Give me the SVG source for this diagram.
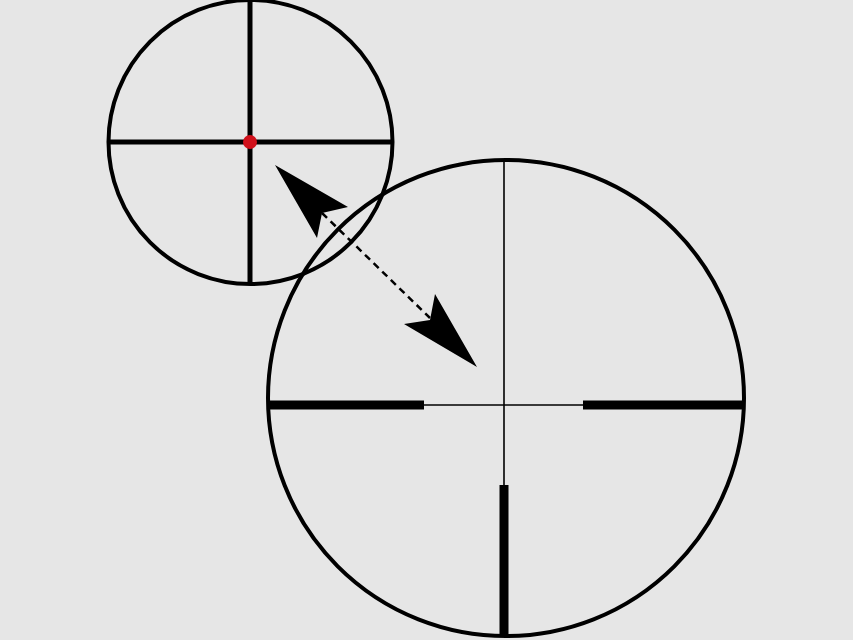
<svg xmlns="http://www.w3.org/2000/svg" width="853" height="640" viewBox="0 0 853 640">
<style>
.ring{fill:none;stroke:#000;stroke-width:4}
.thick{stroke:#000;stroke-width:5}
.thin{stroke:#000;stroke-width:1.6}
.bar{stroke:#000;stroke-width:9}
</style>
<rect width="853" height="640" fill="#e6e6e6"/>
<g id="small-reticle">
<circle class="ring" cx="250.5" cy="142" r="142"/>
<line class="thick" x1="250" y1="0" x2="250" y2="284"/>
<line class="thick" x1="108" y1="142" x2="393" y2="142"/>
<circle cx="250" cy="142" r="7" fill="#d0101a"/>
</g>
<g id="large-reticle">
<circle class="ring" cx="506" cy="398" r="238"/>
<line class="thin" x1="504" y1="160" x2="504" y2="486"/>
<line class="thin" x1="424" y1="405" x2="584" y2="405"/>
<line class="bar" x1="268" y1="405" x2="424" y2="405"/>
<line class="bar" x1="583" y1="405" x2="744" y2="405"/>
<line class="bar" x1="504" y1="485" x2="504" y2="636"/>
</g>
<g id="connectors">
<line x1="322" y1="213" x2="430" y2="318" stroke="#000" stroke-width="2.5" stroke-dasharray="7 5"/>
<polygon points="275,165 348,207 322,213 317,238" fill="#000"/>
<polygon points="477,367 404,324 430,320 435,294" fill="#000"/>
</g>
</svg>
